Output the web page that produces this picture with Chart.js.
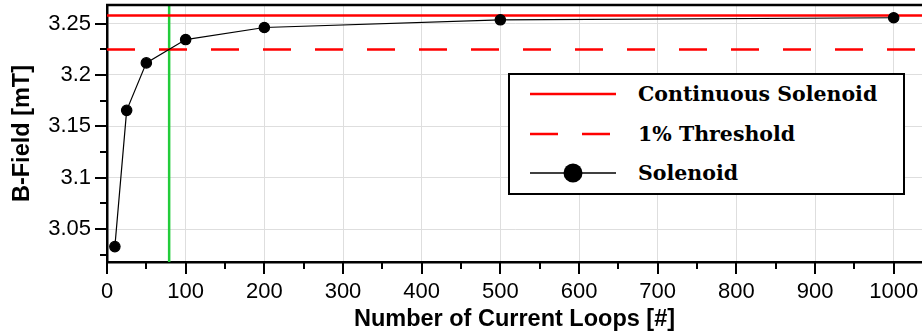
<!DOCTYPE html>
<html lang="en">
<head>
  <meta charset="UTF-8">
  <title>B-Field vs. Number of Current Loops</title>
  <script src="https://cdn.jsdelivr.net/npm/chart.js"></script>
  <style>
    html, body {
      margin: 0;
      padding: 0;
      background: #ffffff;
    }
    .wrap {
      position: relative;
      width: 922px;
      height: 331px;
    }
    .legend {
      position: absolute;
      left: 508px;
      top: 73px;
      width: 393px;
      height: 118px;
      border: 2px solid #000;
      background: #fff;
      font-family: 'DejaVu Serif', serif;
      font-weight: bold;
      font-size: 20.5px;
    }
    .legend .row {
      position: absolute;
      left: 0;
      height: 30px;
      width: 100%;
    }
    .legend .row span {
      position: absolute;
      left: 128px;
      top: 50%;
      transform: translateY(-50%);
      white-space: nowrap;
    }
    .legend svg {
      position: absolute;
      left: 18px;
      top: 0;
    }
  </style>
</head>
<body>
  <div class="wrap">
    <canvas id="chart" width="922" height="331"></canvas>
    <div class="legend">
      <div class="row" style="top: 4px;">
        <svg width="90" height="30"><line x1="2" y1="15" x2="88" y2="15" stroke="#ff0000" stroke-width="2.5"/></svg>
        <span>Continuous Solenoid</span>
      </div>
      <div class="row" style="top: 44px;">
        <svg width="90" height="30"><line x1="2" y1="15" x2="88" y2="15" stroke="#ff0000" stroke-width="2.5" stroke-dasharray="28 24"/></svg>
        <span>1% Threshold</span>
      </div>
      <div class="row" style="top: 83px;">
        <svg width="90" height="30"><line x1="2" y1="15" x2="88" y2="15" stroke="#000" stroke-width="1.3"/><circle cx="45" cy="15" r="9.5" fill="#000"/></svg>
        <span>Solenoid</span>
      </div>
    </div>
  </div>

  <script>
    // measured field for each number of loops
    const loops = [10, 25, 50, 100, 200, 500, 1000];
    const bField = [3.033, 3.1655, 3.2117, 3.2344, 3.2461, 3.2536, 3.2556];

    // reference values
    const continuousField = 3.2578;
    const thresholdField = 3.2247;
    const thresholdLoops = 79;

    // axis ranges and labelled ticks
    const xMin = 0, xMax = 1036;
    const yMin = 3.018, yMax = 3.268;
    const xTicks = [0, 100, 200, 300, 400, 500, 600, 700, 800, 900, 1000];
    const yTicks = [3.05, 3.1, 3.15, 3.2, 3.25];

    const tickFont = { family: "'Liberation Sans', Arial, sans-serif", size: 22 };
    const titleFont = { family: "'Liberation Sans', Arial, sans-serif", size: 23.5, weight: 'bold' };

    // outer tick marks (major + minor halfway) and the top frame line
    const frameTicks = {
      id: 'frameTicks',
      afterDraw(chart) {
        const ctx = chart.ctx;
        const xs = chart.scales.x, ys = chart.scales.y;
        const area = chart.chartArea;
        const tick = (x1, y1, x2, y2) => {
          ctx.beginPath();
          ctx.moveTo(x1, y1);
          ctx.lineTo(x2, y2);
          ctx.stroke();
        };
        ctx.save();
        ctx.strokeStyle = '#000';
        ctx.lineWidth = 2;
        const xHalf = (xTicks[1] - xTicks[0]) / 2;
        xTicks.forEach(v => {
          const px = Math.round(xs.getPixelForValue(v));
          tick(px, area.bottom, px, area.bottom + 12);
          const mx = Math.round(xs.getPixelForValue(v + xHalf));
          if (v + xHalf <= xMax) tick(mx, area.bottom, mx, area.bottom + 7);
        });
        const yHalf = (yTicks[1] - yTicks[0]) / 2;
        yTicks.forEach(v => {
          const py = Math.round(ys.getPixelForValue(v));
          tick(area.left, py, area.left - 12, py);
          const my = Math.round(ys.getPixelForValue(v - yHalf));
          tick(area.left, my, area.left - 7, my);
        });
        ctx.lineWidth = 2.5;
        tick(area.left - 1, area.top, area.right, area.top);
        ctx.restore();
      }
    };

    new Chart(document.getElementById('chart'), {
      type: 'scatter',
      data: {
        datasets: [
          {
            label: 'Solenoid',
            data: loops.map((n, i) => ({ x: n, y: bField[i] })),
            showLine: true,
            borderColor: '#000',
            backgroundColor: '#000',
            borderWidth: 1.2,
            pointRadius: 5.2,
            pointHoverRadius: 5.2,
            order: 0
          },
          {
            label: 'Continuous Solenoid',
            data: [{ x: xMin, y: continuousField }, { x: xMax, y: continuousField }],
            showLine: true,
            borderColor: '#ff0000',
            borderWidth: 2.5,
            pointRadius: 0,
            order: 1
          },
          {
            label: '1% Threshold',
            data: [{ x: xMin, y: thresholdField }, { x: xMax, y: thresholdField }],
            showLine: true,
            borderColor: '#ff0000',
            borderWidth: 2.5,
            borderDash: [28, 24],
            pointRadius: 0,
            order: 2
          },
          {
            label: 'Threshold loops',
            data: [{ x: thresholdLoops, y: yMin }, { x: thresholdLoops, y: yMax }],
            showLine: true,
            borderColor: '#22cc3a',
            borderWidth: 2.5,
            pointRadius: 0,
            order: 3
          }
        ]
      },
      options: {
        responsive: false,
        animation: false,
        layout: { autoPadding: false, padding: { top: 5, right: 0, left: 0, bottom: 0 } },
        plugins: {
          legend: { display: false },
          tooltip: { enabled: false }
        },
        scales: {
          x: {
            type: 'linear',
            min: xMin,
            max: xMax,
            afterBuildTicks(scale) { scale.ticks = xTicks.map(v => ({ value: v })); },
            ticks: {
              color: '#000',
              font: tickFont,
              padding: 17,
              maxRotation: 0,
              autoSkip: false,
              callback: v => String(v)
            },
            grid: { color: '#dedede', lineWidth: 1, drawTicks: false },
            border: { color: '#000', width: 2.5 },
            title: {
              display: true,
              text: 'Number of Current Loops [#]',
              color: '#000',
              font: titleFont,
              padding: { top: 0, bottom: -3 }
            },
            afterFit(scale) {
              scale.height = 69;
              scale.paddingLeft = 0;
              scale.paddingRight = 0;
            }
          },
          y: {
            type: 'linear',
            min: yMin,
            max: yMax,
            afterBuildTicks(scale) { scale.ticks = yTicks.map(v => ({ value: v })); },
            ticks: {
              color: '#000',
              font: tickFont,
              padding: 16,
              autoSkip: false,
              callback: v => String(v)
            },
            grid: { color: '#dedede', lineWidth: 1, drawTicks: false },
            border: { color: '#000', width: 2.5 },
            title: {
              display: true,
              text: 'B-Field [mT]',
              color: '#000',
              font: titleFont,
              padding: { top: 8, bottom: 0 }
            },
            afterFit(scale) {
              scale.width = 107;
              scale.paddingTop = 0;
              scale.paddingBottom = 0;
            }
          }
        }
      },
      plugins: [frameTicks]
    });
  </script>
</body>
</html>
